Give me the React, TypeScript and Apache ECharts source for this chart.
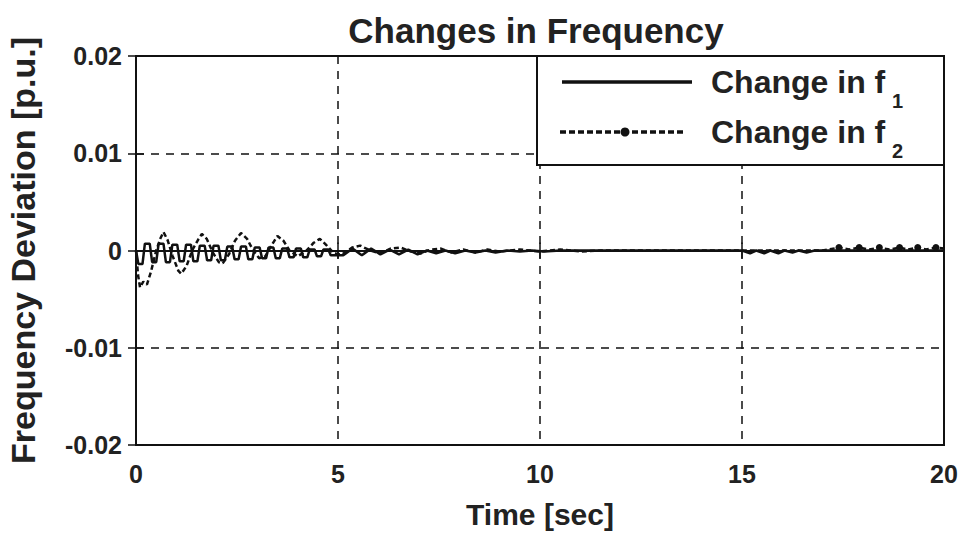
import React, { useEffect, useRef } from "react";
import * as echarts from "echarts";

const titleText = "Changes in Frequency";
const xName = "Time [sec]";
const yName = "Frequency Deviation [p.u.]";
const legendNames = ["Change in f", "Change in f"];
const legendSubs = ["1", "2"];

const xMin = 0;
const xMax = 20;
const xStep = 5;
const yMin = -0.02;
const yMax = 0.02;
const yStep = 0.01;

// Change in f1 (solid)
const f1T = [
  0, 0.06, 0.16, 0.22, 0.34, 0.4, 0.5, 0.56, 0.68, 0.74, 0.84, 0.9, 1.02, 1.08,
  1.18, 1.24, 1.36, 1.42, 1.52, 1.58, 1.7, 1.76, 1.86, 1.92, 2.04, 2.1, 2.2,
  2.26, 2.38, 2.44, 2.54, 2.6, 2.72, 2.78, 2.88, 2.94, 3.06, 3.12, 3.22, 3.28,
  3.4, 3.46, 3.56, 3.62, 3.74, 3.8, 3.9, 3.96, 4.08, 4.14, 4.24, 4.3, 4.42,
  4.48, 4.58, 4.64, 4.76, 4.82, 5.13, 5.36, 5.59, 5.82, 6.05, 6.28, 6.51, 6.74,
  6.97, 7.2, 7.43, 7.66, 7.9, 8.15, 8.4, 8.65, 8.9, 9.2, 9.5, 9.8, 10.1, 10.5,
  15.0, 15.2, 15.35, 15.55, 15.7, 15.9, 16.05, 16.25, 16.4, 16.6, 16.8, 20,
];
const f1V = [
  0, -0.0014, -0.0014, 0.0007, 0.0007, -0.0012, -0.0012, 0.0007, 0.0007,
  -0.0012, -0.0012, 0.0006, 0.0006, -0.0011, -0.0011, 0.0006, 0.0006, -0.0011,
  -0.0011, 0.0005, 0.0005, -0.001, -0.001, 0.0005, 0.0005, -0.001, -0.001,
  0.0004, 0.0004, -0.0009, -0.0009, 0.0004, 0.0004, -0.0009, -0.0009, 0.0003,
  0.0003, -0.0008, -0.0008, 0.0003, 0.0003, -0.0008, -0.0008, 0.0002, 0.0002,
  -0.0007, -0.0007, 0.0002, 0.0002, -0.0007, -0.0007, 0.0001, 0.0001, -0.0006,
  -0.0006, 0.0001, 0.0001, -0.0005, -0.0005, 0.0002, -0.0005, 0.0002, -0.0004,
  0.0001, -0.0004, 0.0001, -0.0004, 0.0, -0.0003, 0.0, -0.0003, 0.0, -0.0002,
  0.0, -0.0002, 0.0, -0.0001, 0.0, -0.0001, 0, 0, -0.0003, 0, -0.0003, 0,
  -0.0003, 0, -0.0002, 0, -0.0002, 0, 0,
];

// Change in f2 (dashed, with markers)
const f2T = [
  0, 0.05, 0.1, 0.18, 0.27, 0.37, 0.5, 0.6, 0.68, 0.78, 0.9, 1.05, 1.12, 1.25,
  1.4, 1.55, 1.63, 1.75, 1.9, 2.05, 2.15, 2.3, 2.45, 2.6, 2.75, 2.9, 3.05, 3.2,
  3.35, 3.5, 3.65, 3.8, 4.0, 4.2, 4.4, 4.55, 4.7, 4.9, 5.1, 5.35, 5.55, 5.8,
  6.05, 6.3, 6.55, 6.8, 7.05, 7.3, 7.55, 7.8, 8.1, 8.4, 8.7, 9.0, 9.5, 10.0,
  10.5, 11.0, 11.5, 12.0, 17.0, 17.4, 17.65, 17.9, 18.15, 18.4, 18.65, 18.9,
  19.1, 19.35, 19.55, 19.8, 20,
];
const f2V = [
  0, -0.0025, -0.0038, -0.0032, -0.0035, -0.0022, 0.0, 0.0012, 0.0019, 0.0011,
  -0.0005, -0.0021, -0.0024, -0.0016, 0.0001, 0.0012, 0.0017, 0.0012, -0.0002,
  -0.0012, -0.0013, -0.0004, 0.001, 0.0018, 0.0012, 0.0, -0.0008, -0.0006,
  0.0005, 0.0015, 0.001, 0.0, -0.0006, -0.0001, 0.0008, 0.0012, 0.0006,
  -0.0003, -0.0004, 0.0003, 0.0005, 0.0, -0.0003, 0.0002, 0.0003, -0.0001,
  -0.0003, 0.0001, 0.0002, -0.0002, 0.0001, -0.0002, 0.0001, -0.0001, 0.0001,
  -0.0001, 0.0001, -0.0001, 0.0, 0.0, 0.0, 0.0003, 0.0001, 0.0003, 0.0001,
  0.0003, 0.0001, 0.0003, 0.0001, 0.0003, 0.0001, 0.0003, 0.0002,
];
const f2MarkerTimes = [17.4, 17.9, 18.4, 18.9, 19.35, 19.8];

const FONT = "'Liberation Sans', Arial, Helvetica, sans-serif";
const INK = "#111";

export default function App() {
  const ref = useRef<HTMLDivElement>(null);

  useEffect(() => {
    if (!ref.current) return;
    const chart = echarts.init(ref.current, undefined, { renderer: "svg" });

    const f1Data = f1T.map((t, i) => [t, f1V[i]]);
    const f2Data = f2T.map((t, i) =>
      f2MarkerTimes.indexOf(t) >= 0
        ? { value: [t, f2V[i]], symbol: "circle", symbolSize: 7 }
        : { value: [t, f2V[i]] }
    );

    const gridL = 136;
    const gridR = 16;
    const gridT = 56;
    const gridB = 88;

    const legX = 537;
    const legY = 56;
    const legW = 407;
    const legH = 109;
    const Z = 100;

    const option: any = {
      animation: false,
      backgroundColor: "#fff",
      title: {
        text: titleText,
        left: 531,
        top: 8,
        textAlign: "center",
        textStyle: { fontFamily: FONT, fontSize: 35, fontWeight: "bold", color: "#222" },
      },
      grid: {
        left: gridL,
        right: gridR,
        top: gridT,
        bottom: gridB,
        containLabel: false,
        outerBoundsMode: "none",
        show: true,
        borderColor: INK,
        borderWidth: 2,
        backgroundColor: "#fff",
      },
      xAxis: [
        {
          type: "value",
          min: xMin,
          max: xMax,
          interval: xStep,
          name: xName,
          nameLocation: "middle",
          nameGap: 54,
          nameTextStyle: { fontFamily: FONT, fontSize: 30, fontWeight: "bold", color: "#222" },
          axisLine: { show: true, lineStyle: { color: INK, width: 2 } },
          axisTick: { show: true, inside: true, length: 8, lineStyle: { color: INK, width: 1.5 } },
          axisLabel: { fontFamily: FONT, fontSize: 25, fontWeight: "bold", color: "#222", margin: 16 },
          splitLine: { show: true, lineStyle: { color: INK, width: 1.5, type: [8, 7] } },
        },
        {
          type: "value",
          position: "top",
          min: xMin,
          max: xMax,
          interval: xStep,
          axisLine: { show: true, lineStyle: { color: INK, width: 2 } },
          axisTick: { show: true, inside: true, length: 8, lineStyle: { color: INK, width: 1.5 } },
          axisLabel: { show: false },
          splitLine: { show: false },
        },
      ],
      yAxis: [
        {
          type: "value",
          min: yMin,
          max: yMax,
          interval: yStep,
          name: yName,
          nameLocation: "middle",
          nameRotate: 90,
          nameGap: 96,
          nameTextStyle: { fontFamily: FONT, fontSize: 34, fontWeight: "bold", color: "#222" },
          axisLine: { show: true, lineStyle: { color: INK, width: 2 } },
          axisTick: { show: true, inside: true, length: 8, lineStyle: { color: INK, width: 1.5 } },
          axisLabel: {
            fontFamily: FONT,
            fontSize: 25,
            fontWeight: "bold",
            color: "#222",
            margin: 14,
            formatter: (v: number) => (Math.abs(v) < 1e-12 ? "0" : String(Number(v.toFixed(2)))),
          },
          splitLine: { show: true, lineStyle: { color: INK, width: 1.5, type: [8, 7] } },
        },
        {
          type: "value",
          position: "right",
          min: yMin,
          max: yMax,
          interval: yStep,
          axisLine: { show: true, lineStyle: { color: INK, width: 2 } },
          axisTick: { show: true, inside: true, length: 8, lineStyle: { color: INK, width: 1.5 } },
          axisLabel: { show: false },
          splitLine: { show: false },
        },
      ],
      series: [
        {
          name: "Change in f1",
          type: "line",
          data: f1Data,
          symbol: "none",
          lineStyle: { color: INK, width: 2.5, type: "solid" },
          itemStyle: { color: INK },
          z: 3,
        },
        {
          name: "Change in f2",
          type: "line",
          data: f2Data,
          symbol: "none",
          lineStyle: { color: INK, width: 2.5, type: [5, 3] },
          itemStyle: { color: INK },
          z: 4,
        },
      ],
      graphic: [
        {
          type: "rect",
          z: Z,
          shape: { x: legX, y: legY, width: legW, height: legH },
          style: { fill: "#fff", stroke: INK, lineWidth: 2 },
        },
        {
          type: "line",
          z: Z + 1,
          shape: { x1: 562, y1: 82, x2: 692, y2: 82 },
          style: { stroke: INK, lineWidth: 3.5 },
        },
        {
          type: "line",
          z: Z + 1,
          shape: { x1: 560, y1: 132, x2: 684, y2: 132 },
          style: { stroke: INK, lineWidth: 3.5, lineDash: [6, 3] },
        },
        {
          type: "circle",
          z: Z + 2,
          shape: { cx: 625, cy: 132, r: 4.5 },
          style: { fill: INK },
        },
        {
          type: "text",
          z: Z + 1,
          x: 711,
          y: 82,
          style: {
            text: legendNames[0],
            font: `bold 32px ${FONT}`,
            fill: "#222",
            verticalAlign: "middle",
          },
        },
        {
          type: "text",
          z: Z + 1,
          x: 892,
          y: 101,
          style: {
            text: legendSubs[0],
            font: `bold 20px ${FONT}`,
            fill: "#222",
            verticalAlign: "middle",
          },
        },
        {
          type: "text",
          z: Z + 1,
          x: 711,
          y: 132,
          style: {
            text: legendNames[1],
            font: `bold 32px ${FONT}`,
            fill: "#222",
            verticalAlign: "middle",
          },
        },
        {
          type: "text",
          z: Z + 1,
          x: 892,
          y: 151,
          style: {
            text: legendSubs[1],
            font: `bold 20px ${FONT}`,
            fill: "#222",
            verticalAlign: "middle",
          },
        },
      ],
    };

    chart.setOption(option);
    return () => chart.dispose();
  }, []);

  return <div ref={ref} style={{ width: 960, height: 533, position: "absolute", left: 0, top: 0 }} />;
}
